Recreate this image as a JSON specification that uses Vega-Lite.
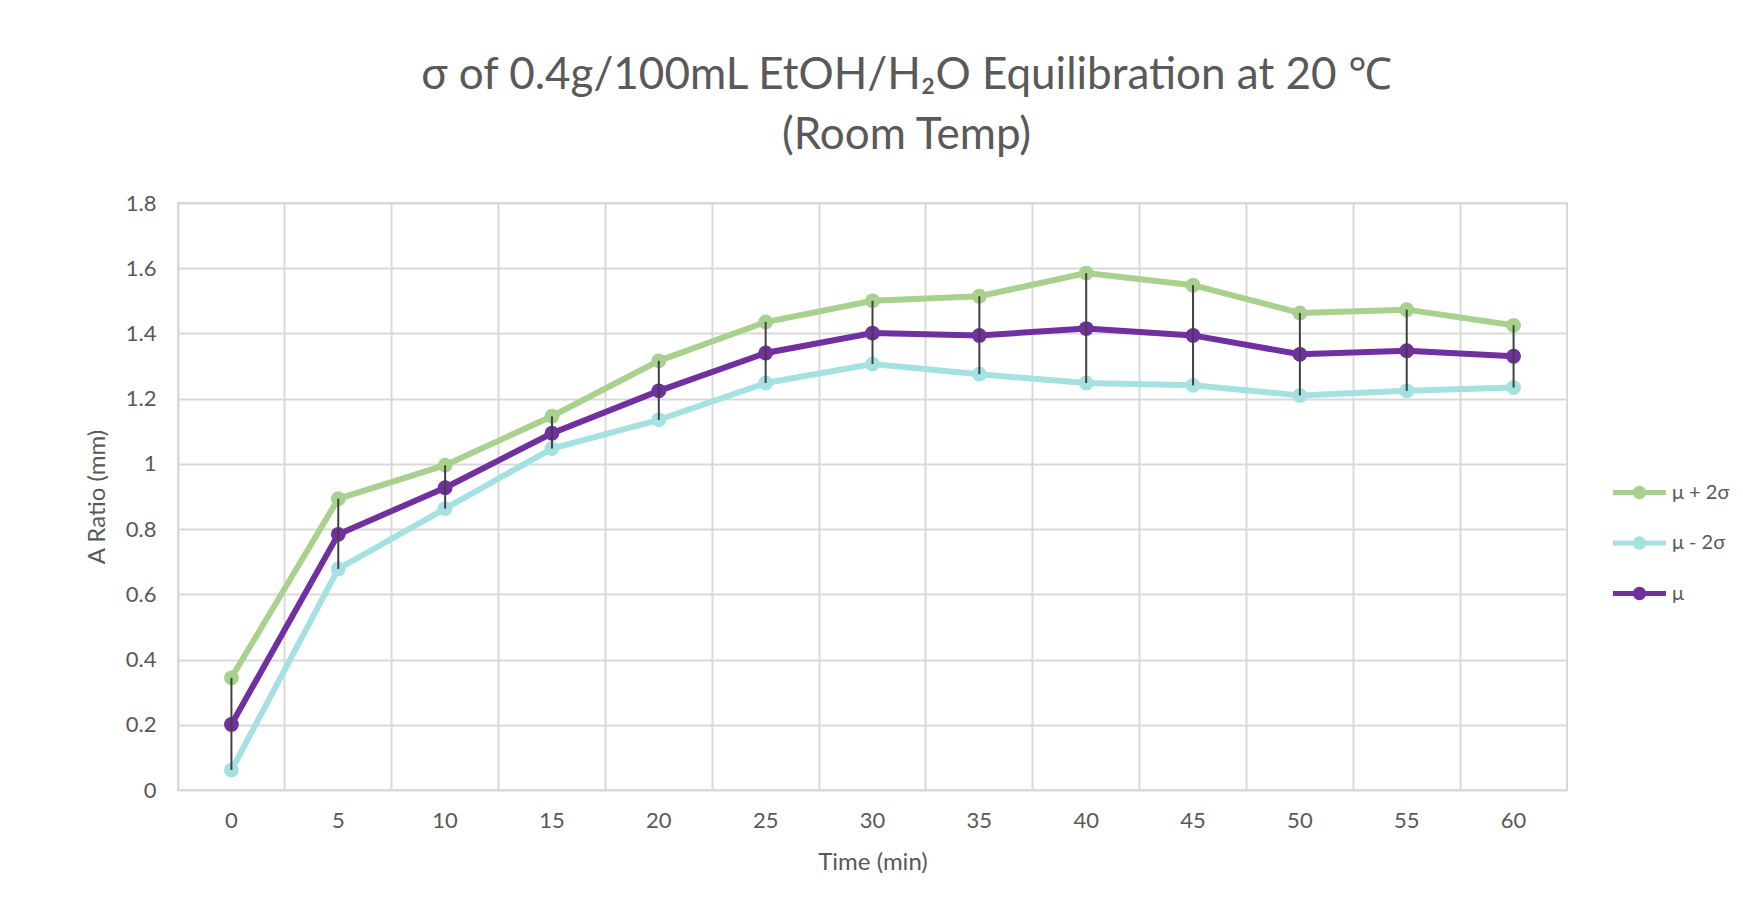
{
  "$schema": "https://vega.github.io/schema/vega-lite/v6.json",
  "width": 1389,
  "height": 587,
  "autosize": {"type": "none"},
  "padding": {"left": 178, "top": 203, "right": 176, "bottom": 128},
  "background": "white",
  "config": {
    "view": {"stroke": "#D9D9D9", "strokeWidth": 2},
    "font": "Lato"
  },
  "title": {
    "text": ["σ of 0.4g/100mL EtOH/H₂O  Equilibration at 20 ℃", "(Room Temp)"],
    "fontSize": 44,
    "font": "Lato",
    "fontWeight": "normal",
    "color": "#595959",
    "lineHeight": 60,
    "anchor": "middle",
    "dx": 34,
    "offset": 34
  },
  "data": {
    "values": [
      {"t": 0, "μ + 2σ": 0.344, "μ": 0.201, "μ - 2σ": 0.061},
      {"t": 5, "μ + 2σ": 0.893, "μ": 0.784, "μ - 2σ": 0.678},
      {"t": 10, "μ + 2σ": 0.996, "μ": 0.927, "μ - 2σ": 0.863},
      {"t": 15, "μ + 2σ": 1.146, "μ": 1.094, "μ - 2σ": 1.047},
      {"t": 20, "μ + 2σ": 1.316, "μ": 1.224, "μ - 2σ": 1.135},
      {"t": 25, "μ + 2σ": 1.435, "μ": 1.340, "μ - 2σ": 1.248},
      {"t": 30, "μ + 2σ": 1.500, "μ": 1.401, "μ - 2σ": 1.306},
      {"t": 35, "μ + 2σ": 1.514, "μ": 1.394, "μ - 2σ": 1.275},
      {"t": 40, "μ + 2σ": 1.585, "μ": 1.415, "μ - 2σ": 1.248},
      {"t": 45, "μ + 2σ": 1.548, "μ": 1.394, "μ - 2σ": 1.241},
      {"t": 50, "μ + 2σ": 1.463, "μ": 1.336, "μ - 2σ": 1.210},
      {"t": 55, "μ + 2σ": 1.473, "μ": 1.347, "μ - 2σ": 1.224},
      {"t": 60, "μ + 2σ": 1.425, "μ": 1.330, "μ - 2σ": 1.234}
    ]
  },
  "layer": [
    {
      "transform": [{"fold": ["μ + 2σ", "μ - 2σ", "μ"], "as": ["series", "value"]}],
      "mark": {"type": "line", "strokeWidth": 6, "point": {"filled": true, "size": 220, "opacity": 1}},
      "encoding": {
        "x": {
          "field": "t",
          "type": "ordinal",
          "scale": {"type": "band", "paddingInner": 0, "paddingOuter": 0},
          "axis": {
            "bandPosition": 0,
            "labelOffset": 0,
            "grid": true,
            "gridColor": "#D9D9D9",
            "gridWidth": 2,
            "ticks": false,
            "domain": false,
            "labelAngle": 0,
            "labelPadding": 20,
            "labelFontSize": 22,
            "labelFont": "Lato",
            "labelColor": "#595959",
            "title": "Time (min)",
            "titleFont": "Lato",
            "titleFontSize": 24,
            "titleFontWeight": "normal",
            "titleColor": "#595959",
            "titlePadding": 19
          }
        },
        "y": {
          "field": "value",
          "type": "quantitative",
          "scale": {"domain": [0, 1.8], "nice": false},
          "axis": {
            "values": [0, 0.2, 0.4, 0.6, 0.8, 1, 1.2, 1.4, 1.6, 1.8],
            "format": "~g",
            "grid": true,
            "gridColor": "#D9D9D9",
            "gridWidth": 2,
            "ticks": false,
            "domain": false,
            "labelPadding": 22,
            "labelFontSize": 22,
            "labelFont": "Lato",
            "labelColor": "#595959",
            "title": "A Ratio (mm)",
            "titleFont": "Lato",
            "titleFontSize": 24,
            "titleFontWeight": "normal",
            "titleColor": "#595959",
            "titlePadding": 16
          }
        },
        "color": {
          "field": "series",
          "type": "nominal",
          "scale": {"domain": ["μ + 2σ", "μ - 2σ", "μ"], "range": ["#A9D18E", "#A5E1E1", "#7030A0"]},
          "legend": {
            "title": null,
            "orient": "none",
            "legendX": 1444,
            "legendY": 272,
            "padding": 0,
            "symbolType": "M-1.77,0L1.77,0M-0.28,0A0.28,0.28,0,1,1,0.28,0A0.28,0.28,0,1,1,-0.28,0Z",
            "symbolSize": 900,
            "symbolStrokeWidth": 5,
            "rowPadding": 18.5,
            "labelOffset": 15,
            "labelFontSize": 20,
            "labelFont": "Lato",
            "labelColor": "#595959",
            "encode": {
              "symbols": {"update": {"fill": {"scale": "color", "field": "value"}, "fillOpacity": {"value": 1}}}
            }
          }
        }
      }
    },
    {
      "mark": {"type": "rule", "color": "#404040", "strokeWidth": 2},
      "encoding": {
        "x": {"field": "t", "type": "ordinal"},
        "y": {"field": "μ - 2σ", "type": "quantitative"},
        "y2": {"field": "μ + 2σ"}
      }
    }
  ]
}
